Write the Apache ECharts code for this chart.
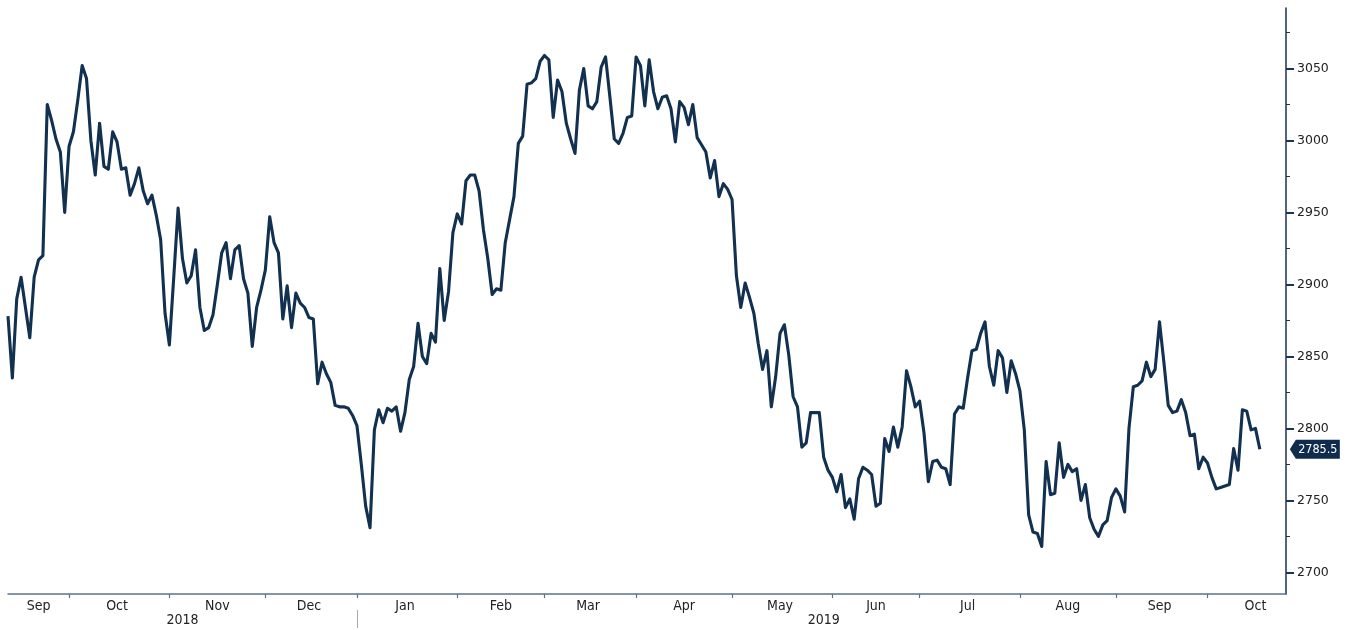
<!DOCTYPE html>
<html><head><meta charset="utf-8">
<script src="https://cdn.jsdelivr.net/npm/echarts@6/dist/echarts.min.js"></script>
<style>html,body{margin:0;padding:0;background:#fff}#c{width:1351px;height:630px}</style>
</head><body><div id="c"></div>
<script>
// ---- data ----
const startDate = '2018-09-11';
const endDate = '2019-10-31';
const axisEndIndex = 293;
const values = [
2878,2835,2890,2905,2884,2863,2905,2917,2920,3025,
3014,3001,2992,2950,2996,3006,3028,3052,3043,3000,
2976,3012,2982,2980,3006,2999,2980,2981,2962,2970,
2981,2965,2956,2962,2948,2931,2880,2858,2905,2953,
2918,2901,2906,2924,2884,2868,2870,2879,2900,2922,
2929,2904,2924,2927,2904,2894,2857,2884,2896,2910,
2947,2929,2922,2876,2899,2870,2894,2887,2884,2877,
2876,2831,2846,2838,2832,2816,2815,2815,2814,2809,
2802,2775,2746,2731,2799,2813,2804,2814,2812,2815,
2798,2811,2834,2843,2873,2850,2845,2866,2860,2911,
2875,2895,2936,2949,2942,2972,2976,2976,2965,2938,
2918,2893,2897,2896,2929,2945,2961,2998,3003,3039,
3040,3043,3055,3059,3056,3016,3042,3034,3012,3001,
2991,3035,3050,3024,3022,3027,3051,3058,3030,3001,
2998,3005,3016,3017,3058,3052,3024,3056,3034,3022,
3030,3031,3022,2999,3027,3023,3011,3025,3002,2997,
2992,2974,2986,2961,2970,2966,2959,2906,2884,2901,
2891,2880,2859,2841,2854,2815,2836,2866,2872,2851,
2822,2815,2787,2790,2811,2811,2811,2780,2771,2766,
2756,2768,2745,2751,2737,2765,2773,2771,2768,2746,
2748,2793,2784,2801,2787,2801,2840,2829,2815,2819,
2797,2763,2777,2778,2773,2772,2761,2810,2815,2814,
2835,2854,2855,2866,2874,2843,2830,2854,2849,2825,
2847,2838,2826,2799,2740,2728,2727,2718,2777,2754,
2755,2790,2766,2775,2770,2772,2750,2761,2738,2730,
2725,2733,2736,2752,2758,2753,2742,2800,2829,2830,
2833,2846,2836,2841,2874,2846,2816,2811,2812,2820,
2811,2795,2796,2772,2780,2776,2766,2758,2759,2760,
2761,2786,2771,2813,2812,2799,2800,2785.5
];
const yLabelValues = [2700,2750,2800,2850,2900,2950,3000,3050];
const yMinorValues = [2725,2775,2825,2875,2925,2975,3025,3075];
const monthNames = ['Jan','Feb','Mar','Apr','May','Jun','Jul','Aug','Sep','Oct','Nov','Dec'];
const yMin = 2685, yMax = 3092;

// ---- weekday categories ----
function buildWeekdays(s, e) {
  const out = [];
  const d = new Date(s + 'T00:00:00Z');
  const end = new Date(e + 'T00:00:00Z');
  while (d <= end) {
    const wd = d.getUTCDay();
    if (wd !== 0 && wd !== 6) out.push(d.toISOString().slice(0, 10));
    d.setUTCDate(d.getUTCDate() + 1);
  }
  return out;
}
const categories = buildWeekdays(startDate, endDate);

// month segments
const monthStart = new Set(), monthMid = new Set();
const yearStart = new Set(), yearMid = new Set();
(function () {
  let segStart = 0;
  for (let i = 1; i <= categories.length; i++) {
    if (i === categories.length || categories[i].slice(0, 7) !== categories[i - 1].slice(0, 7)) {
      monthMid.add(Math.ceil((segStart + i - 1) / 2));
      if (i < categories.length) monthStart.add(i);
      segStart = i;
    }
  }
  let ys = 0;
  const last = Math.min(axisEndIndex, categories.length - 1);
  for (let i = 1; i <= last + 1; i++) {
    if (i === last + 1 || categories[i].slice(0, 4) !== categories[i - 1].slice(0, 4)) {
      yearMid.add(Math.ceil((ys + i - 1) / 2));
      if (i <= last) yearStart.add(i);
      ys = i;
    }
  }
})();

const lineColor = '#12304f';
const labelFont = '"Liberation Sans Narrow", "DejaVu Sans Condensed", sans-serif';
const chart = echarts.init(document.getElementById('c'), null, {renderer: 'canvas'});
chart.setOption({
  animation: false,
  backgroundColor: '#fff',
  grid: {left: 8, right: 65, top: 8, bottom: 36, containLabel: false},
  xAxis: [{
    type: 'category', data: categories, boundaryGap: false, max: axisEndIndex,
    axisLine: {show: true, lineStyle: {color: '#5f7289', width: 1.5}},
    axisTick: {show: true, length: 4, interval: (i) => monthStart.has(i), lineStyle: {color: '#5f7289', width: 1.2}},
    axisLabel: {show: true, interval: (i) => monthMid.has(i), hideOverlap: false, margin: 5,
      formatter: (v) => monthNames[parseInt(v.slice(5, 7), 10) - 1],
      color: '#222', fontSize: 14, fontFamily: labelFont},
    splitLine: {show: false}
  }, {
    type: 'category', data: categories, boundaryGap: false, max: axisEndIndex, position: 'bottom', offset: 16,
    axisLine: {show: false},
    axisTick: {show: true, length: 18, interval: (i) => yearStart.has(i), lineStyle: {color: '#aaaaaa', width: 1}},
    axisLabel: {show: true, interval: (i) => yearMid.has(i), hideOverlap: false, margin: 3,
      formatter: (v) => v.slice(0, 4),
      color: '#222', fontSize: 14, fontFamily: labelFont},
    splitLine: {show: false}
  }],
  yAxis: [{
    type: 'value', position: 'right', min: yMin, max: yMax,
    axisLine: {show: true, lineStyle: {color: '#1b3352', width: 1.5}},
    axisTick: {show: true, inside: false, length: 8, customValues: yLabelValues, lineStyle: {color: '#1b3352', width: 2}},
    axisLabel: {show: true, customValues: yLabelValues, margin: 11, color: '#222', fontSize: 12.5,
      fontFamily: '"DejaVu Sans", sans-serif', formatter: (v) => String(v)},
    splitLine: {show: false}
  }, {
    type: 'value', position: 'right', min: yMin, max: yMax,
    axisLine: {show: false},
    axisTick: {show: true, length: 4, customValues: yMinorValues, lineStyle: {color: '#1b3352', width: 1}},
    axisLabel: {show: false},
    splitLine: {show: false}
  }],
  series: [{
    type: 'line', data: values, xAxisIndex: 0, yAxisIndex: 0,
    symbol: 'none', smooth: false,
    lineStyle: {color: lineColor, width: 3.1, join: 'round'},
    markPoint: {
      silent: true,
      symbol: 'path://M0,9L6,0L50,0L50,18L6,18Z',
      symbolSize: [50, 19], symbolKeepAspect: false, symbolOffset: [55, 0],
      itemStyle: {color: '#0f2c4c'},
      label: {show: true, position: 'inside', offset: [3, 0], color: '#fff', fontSize: 12.5,
        fontFamily: '"DejaVu Sans Condensed", "DejaVu Sans", sans-serif', formatter: () => String(values[values.length - 1])},
      data: [{coord: [values.length - 1, values[values.length - 1]], value: values[values.length - 1]}]
    }
  }]
});
</script></body></html>
